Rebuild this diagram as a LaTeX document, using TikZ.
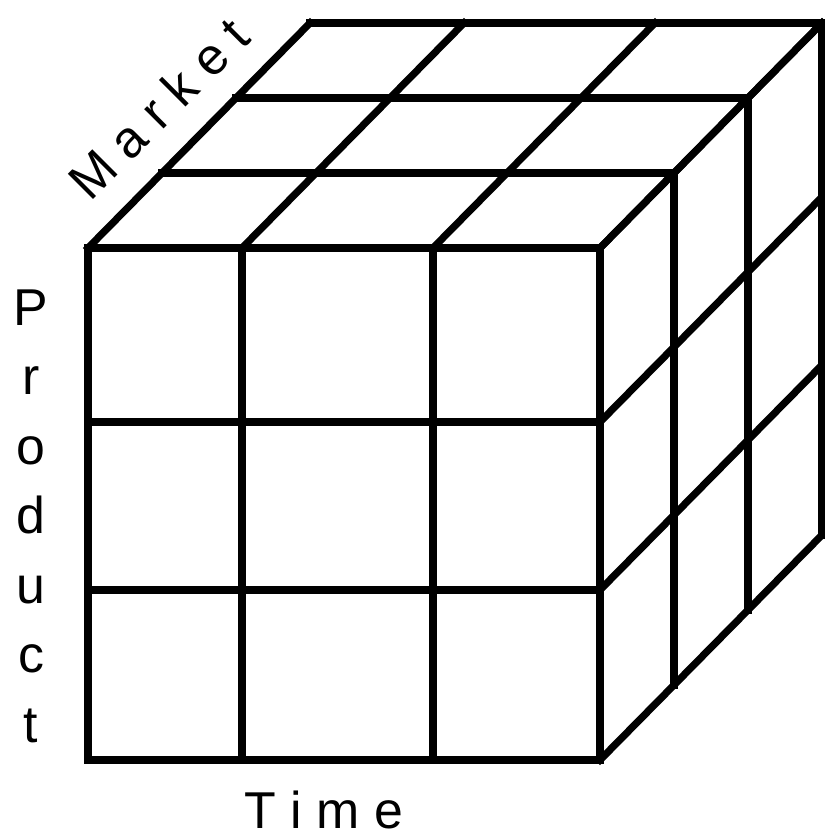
\documentclass[tikz,border=0pt]{standalone}
\usepackage{fontspec}
\setmainfont{Liberation Sans}
\newcommand{\axisfont}{\fontsize{29.5}{35}\selectfont}

\begin{document}
\begin{tikzpicture}[x=0.02cm, y=-0.02cm, every node/.style={font=\axisfont, inner sep=0pt}]
  \tikzstyle{grid}=[line width=0.145cm, line cap=rect, line join=miter]
  \useasboundingbox (0,0) rectangle (825,836);
  % front face
  \foreach \x in {88,242,433,600}
    \draw[grid] (\x,248) -- (\x,760);
  \foreach \y in {248,422,590,760}
    \draw[grid] (88,\y) -- (600,\y);
  % top face
  \foreach \d in {1,2,3}
    \draw[grid] (88+74*\d,248-75*\d) -- (600+74*\d,248-75*\d);
  \foreach \x in {88,242,433,600}
    \draw[grid] (\x,248) -- (\x+222,23);
  % right face
  \foreach \d in {1,2,3}
    \draw[grid] (600+74*\d,248-75*\d) -- (600+74*\d,760-75*\d);
  \foreach \y in {248,422,590,760}
    \draw[grid] (600,\y) -- (822,\y-225);
  % labels
  \node[rotate=45, anchor=base west] (market) at (90,203) {M a r k e t};
  \foreach \ch [count=\i] in {P,r,o,d,u,c,t}
    \node[anchor=base] (product\i) at (31,325+69.5*\i-69.5) {\ch};
  \node[anchor=base] (time) at (324,828) {T i m e};
\end{tikzpicture}
\end{document}
